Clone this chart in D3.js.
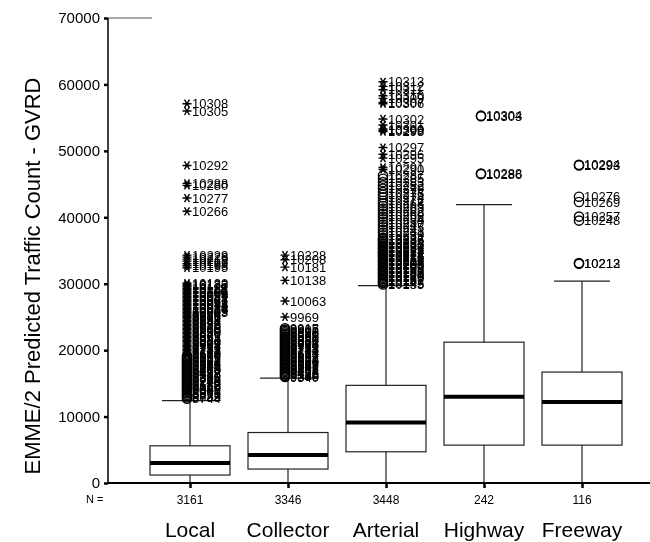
<!DOCTYPE html>
<meta charset="utf-8">
<style>
body { margin: 0; background: #fff; }
svg { display: block; font-family: "Liberation Sans", Arial, sans-serif; will-change: transform; }
.box rect { fill: none; stroke: #222; stroke-width: 1.2; }
.box line { stroke: #222; stroke-width: 1.2; }
.box .median { stroke: #000; stroke-width: 4; }
.mark { fill: none; stroke: #000; stroke-width: 1.4; }
.lab { font-size: 13px; fill: #000; }
.axis path, .axis line { stroke: #000; }
</style>
<svg width="650" height="542"></svg>
<script src="https://cdn.jsdelivr.net/npm/d3@7"></script>
<script>

var categories = ["Local", "Collector", "Arterial", "Highway", "Freeway"],
    counts = [3161, 3346, 3448, 242, 116],
    lowWhisker = [0, 0, 0, 0, 0],
    q1 = [1200, 2100, 4700, 5700, 5700],
    medians = [3000, 4200, 9100, 13000, 12200],
    q3 = [5600, 7600, 14700, 21200, 16700],
    highWhisker = [12400, 15800, 29700, 41900, 30400],
    yTicks = [0, 10000, 20000, 30000, 40000, 50000, 60000, 70000];

// extremes (*) and outliers (o): [value, case id]
var localExtremes = [[57100, "10308"], [56000, "10305"], [47800, "10292"], [45100, "10288"], [44800, "10280"],
  [42900, "10277"], [40900, "10266"], [34300, "10229"], [34000, "10226"], [33700, "10219"], [33400, "10212"],
  [33000, "10199"], [32700, "10198"], [32400, "10195"],
  [30100, "10132"], [29900, "10130"], [29700, "10127"], [29500, "10122"], [29300, "10118"], [29100, "10113"],
  [28900, "10108"], [28700, "10104"], [28500, "10099"], [28300, "10094"], [28100, "10089"], [27900, "10081"],
  [27700, "10074"], [27500, "10067"], [27300, "10061"], [27100, "10052"], [26900, "10044"], [26700, "10038"],
  [26500, "10032"], [26300, "10024"], [26100, "10016"], [25900, "10009"], [25700, "10003"], [25500, "9994"],
  [25300, "9986"], [25100, "9975"], [24900, "9966"], [24700, "9958"], [24500, "9951"], [24300, "9944"],
  [24100, "9938"], [23900, "9932"], [23700, "9926"], [23500, "9920"], [23300, "9913"], [23100, "9906"],
  [22900, "9899"], [22700, "9890"], [22500, "9880"], [22300, "9871"], [22100, "9861"], [21900, "9852"],
  [21700, "9842"], [21500, "9831"], [21300, "9820"], [21100, "9809"], [20900, "9797"], [20700, "9784"],
  [20500, "9771"], [20300, "9757"], [20100, "9742"], [19900, "9728"], [19700, "9713"], [19500, "9697"],
  [19300, "9680"]];
var localOutliers = [[19100, "9666"], [18900, "9652"], [18700, "9635"], [18500, "9617"], [18300, "9601"],
  [18100, "9584"], [17900, "9566"], [17700, "9548"], [17500, "9527"], [17300, "9505"], [17100, "9483"],
  [16900, "9460"], [16700, "9437"], [16500, "9413"], [16300, "9387"], [16100, "9360"], [15900, "9333"],
  [15700, "9305"], [15500, "9276"], [15300, "9246"], [15100, "9214"], [14900, "9182"], [14700, "9150"],
  [14500, "9117"], [14300, "9080"], [14100, "9042"], [13900, "9002"], [13700, "8961"], [13500, "8919"],
  [13300, "8877"], [13100, "8833"], [12900, "8789"], [12700, "8744"]];

var collectorExtremes = [[34300, "10228"], [33600, "10208"], [32500, "10181"], [30500, "10138"],
  [27400, "10063"], [25000, "9969"]];
var collectorOutliers = [[23300, "9915"], [23100, "9907"], [22900, "9898"], [22700, "9890"], [22500, "9881"],
  [22300, "9869"], [22100, "9860"], [21900, "9851"], [21700, "9840"], [21500, "9831"], [21300, "9820"],
  [21100, "9808"], [20900, "9796"], [20700, "9784"], [20500, "9772"], [20300, "9758"], [20100, "9743"],
  [19900, "9731"], [19700, "9714"], [19500, "9697"], [19300, "9684"], [19100, "9667"], [18900, "9651"],
  [18700, "9637"], [18500, "9618"], [18300, "9600"], [18100, "9583"], [17900, "9565"], [17700, "9547"],
  [17500, "9527"], [17300, "9506"], [17100, "9482"], [16900, "9461"], [16700, "9436"], [16500, "9412"],
  [16300, "9388"], [16100, "9359"], [15950, "9340"]];

var arterialExtremes = [[60400, "10313"], [59700, "10312"], [59200, "10311"], [58300, "10310"], [57900, "10309"],
  [57300, "10307"], [57100, "10306"], [54800, "10302"], [53900, "10301"], [53300, "10300"], [53100, "10299"],
  [52900, "10298"], [50500, "10297"], [49500, "10296"], [48900, "10295"], [47500, "10291"], [47200, "10290"]];
var arterialOutliers = [[46300, "10287"], [45800, "10285"], [45300, "10283"], [44800, "10282"], [44300, "10279"],
  [43800, "10278"], [43400, "10275"], [43000, "10274"], [42500, "10272"], [42100, "10268"], [41700, "10265"],
  [41300, "10263"], [40900, "10262"], [40500, "10260"], [40100, "10258"], [39700, "10254"], [39300, "10250"],
  [38900, "10247"], [38500, "10245"], [38100, "10243"], [37700, "10241"], [37300, "10239"],
  [36900, "10237"], [36700, "10236"], [36500, "10235"], [36300, "10234"], [36100, "10233"], [35900, "10232"],
  [35700, "10231"], [35500, "10230"], [35300, "10227"], [35100, "10225"], [34900, "10224"], [34700, "10222"],
  [34500, "10221"], [34300, "10218"], [34100, "10216"], [33900, "10215"], [33700, "10214"], [33500, "10211"],
  [33300, "10209"], [33100, "10206"], [32900, "10203"], [32700, "10200"], [32500, "10197"], [32300, "10193"],
  [32100, "10190"], [31900, "10187"], [31700, "10185"], [31500, "10180"], [31300, "10176"], [31100, "10170"],
  [30900, "10165"], [30700, "10161"], [30500, "10152"], [30300, "10147"], [30100, "10143"], [29900, "10135"]];

var highwayExtremes = [];
var highwayOutliers = [[55300, "10304"], [55200, "10303"], [46600, "10288"], [46500, "10286"]];

var freewayExtremes = [];
var freewayOutliers = [[47900, "10294"], [47800, "10293"], [43100, "10276"], [42300, "10269"],
  [40100, "10257"], [39500, "10248"], [33100, "10213"], [33000, "10212"]];

var extremes = [localExtremes, collectorExtremes, arterialExtremes, highwayExtremes, freewayExtremes],
    outliers = [localOutliers, collectorOutliers, arterialOutliers, highwayOutliers, freewayOutliers];

var svg = d3.select("svg");

var y = d3.scaleLinear().domain([0, 70000]).range([483, 18]);
var x = d3.scalePoint().domain(categories).range([190, 582]);
var axisX = 108, boxHalf = 40, capHalf = 28;

// y axis
var yAxis = svg.append("g")
    .attr("class", "axis")
    .attr("transform", "translate(" + axisX + ",0)")
    .call(d3.axisLeft(y).tickValues(yTicks).tickSize(4).tickSizeOuter(0).tickPadding(4).tickFormat(d3.format("d")));
yAxis.select(".domain").remove();
yAxis.selectAll("line").attr("stroke-width", 2.5);
yAxis.selectAll("text").style("font-size", "15px").style("font-family", "Liberation Sans, Arial, sans-serif");

svg.append("line")
    .attr("x1", axisX).attr("x2", axisX)
    .attr("y1", y(70000)).attr("y2", y(0) + 1)
    .attr("stroke", "#000").attr("stroke-width", 1.5);
svg.append("line")
    .attr("x1", axisX).attr("x2", 152)
    .attr("y1", y(70000)).attr("y2", y(70000))
    .attr("stroke", "#555").attr("stroke-width", 1.2);

// x axis
var xAxis = svg.append("g")
    .attr("class", "axis")
    .attr("transform", "translate(0," + y(0) + ")")
    .call(d3.axisBottom(x).tickSize(5).tickSizeOuter(0).tickFormat(""));
xAxis.select(".domain").remove();
xAxis.selectAll("line").attr("stroke-width", 2.5);

svg.append("line")
    .attr("x1", axisX).attr("x2", 650)
    .attr("y1", y(0)).attr("y2", y(0))
    .attr("stroke", "#000").attr("stroke-width", 2);

// boxes
var box = svg.selectAll(".box")
    .data(categories)
  .enter().append("g")
    .attr("class", "box")
    .attr("transform", function(d) { return "translate(" + x(d) + ",0)"; });

box.append("line")
    .attr("y1", function(d, i) { return y(highWhisker[i]); })
    .attr("y2", function(d, i) { return y(q3[i]); });
box.append("line")
    .attr("y1", function(d, i) { return y(q1[i]); })
    .attr("y2", function(d, i) { return y(lowWhisker[i]); });
box.append("line")
    .attr("x1", -capHalf).attr("x2", capHalf)
    .attr("y1", function(d, i) { return y(highWhisker[i]); })
    .attr("y2", function(d, i) { return y(highWhisker[i]); });
box.append("rect")
    .attr("x", -boxHalf)
    .attr("width", boxHalf * 2)
    .attr("y", function(d, i) { return y(q3[i]); })
    .attr("height", function(d, i) { return y(q1[i]) - y(q3[i]); });
box.append("line")
    .attr("class", "median")
    .attr("x1", -boxHalf).attr("x2", boxHalf)
    .attr("y1", function(d, i) { return y(medians[i]); })
    .attr("y2", function(d, i) { return y(medians[i]); });

// outliers and extremes with case labels
var star = "M-4.5,0H4.5M-2.5,-4L2.5,4M-2.5,4L2.5,-4";

box.each(function(d, i) {
  var g = d3.select(this);
  outliers[i].forEach(function(o) {
    g.append("circle").attr("class", "mark")
        .attr("cx", -3).attr("cy", y(o[0])).attr("r", 4.6);
    g.append("text").attr("class", "lab")
        .attr("x", 2).attr("y", y(o[0])).attr("dy", "0.36em").text(o[1]);
  });
  extremes[i].forEach(function(o) {
    g.append("path").attr("class", "mark")
        .attr("transform", "translate(-3," + y(o[0]) + ")").attr("d", star);
    g.append("text").attr("class", "lab")
        .attr("x", 2).attr("y", y(o[0])).attr("dy", "0.36em").text(o[1]);
  });
});

// N row and category labels
svg.append("text")
    .attr("x", 86).attr("y", 503)
    .style("font-size", "11px")
    .text("N =");

svg.selectAll(".count")
    .data(counts)
  .enter().append("text")
    .attr("class", "count")
    .attr("x", function(d, i) { return x(categories[i]); })
    .attr("y", 504)
    .attr("text-anchor", "middle")
    .style("font-size", "12px")
    .text(function(d) { return d; });

svg.selectAll(".cat")
    .data(categories)
  .enter().append("text")
    .attr("class", "cat")
    .attr("x", function(d) { return x(d); })
    .attr("y", 537)
    .attr("text-anchor", "middle")
    .style("font-size", "21px")
    .text(function(d) { return d; });

svg.append("text")
    .attr("transform", "translate(40,276) rotate(-90)")
    .attr("text-anchor", "middle")
    .style("font-size", "22px")
    .text("EMME/2 Predicted Traffic Count - GVRD");

</script>
